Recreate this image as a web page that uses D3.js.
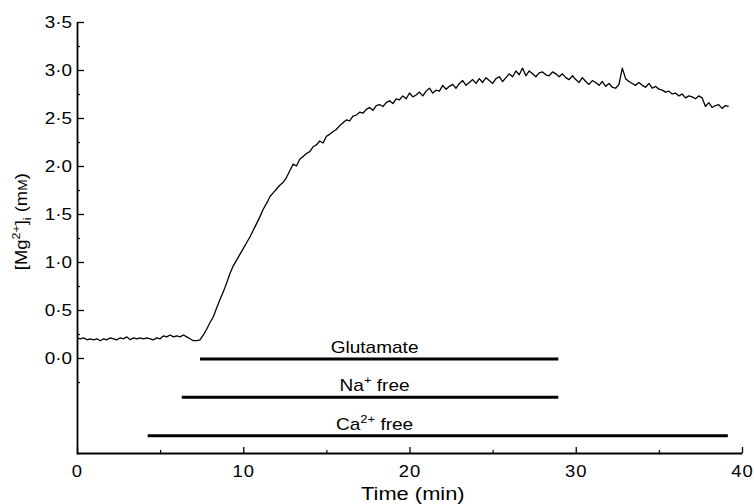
<!DOCTYPE html>
<html>
<head>
<meta charset="utf-8">
<script src="https://cdn.jsdelivr.net/npm/d3@7"></script>
<style>
  html, body { margin: 0; padding: 0; background: #fff; }
  svg { display: block; }
  text { font-family: "Liberation Sans", Arial, Helvetica, sans-serif; fill: #000; }
</style>
</head>
<body>
<svg id="chart" width="754" height="504"></svg>
<script>
// ---- data ----
const sampleInterval = 0.2; // min between samples of the trace
const mgValues = [
  0.21,0.20,0.21,0.19,0.20,0.19,0.20,0.18,0.20,0.19,
  0.21,0.20,0.19,0.21,0.20,0.22,0.19,0.21,0.20,0.21,
  0.20,0.21,0.20,0.19,0.21,0.20,0.23,0.22,0.24,0.22,
  0.23,0.22,0.24,0.22,0.20,0.18,0.18,0.19,0.24,0.30,
  0.37,0.43,0.52,0.61,0.69,0.78,0.88,0.96,1.02,1.08,
  1.14,1.20,1.26,1.33,1.40,1.47,1.55,1.61,1.68,1.72,
  1.76,1.80,1.83,1.88,1.95,2.02,2.00,2.07,2.10,2.13,
  2.15,2.20,2.22,2.26,2.24,2.31,2.33,2.36,2.38,2.42,
  2.45,2.48,2.47,2.52,2.53,2.56,2.55,2.59,2.61,2.58,
  2.63,2.64,2.62,2.66,2.68,2.65,2.70,2.69,2.73,2.70,
  2.76,2.72,2.74,2.77,2.73,2.78,2.81,2.76,2.79,2.78,
  2.84,2.80,2.83,2.85,2.81,2.86,2.89,2.84,2.87,2.90,
  2.86,2.91,2.87,2.92,2.89,2.86,2.91,2.93,2.88,2.92,
  2.96,2.93,2.99,2.95,3.02,2.94,2.99,2.96,2.93,2.97,
  2.98,2.95,2.94,2.98,2.96,2.93,2.96,2.92,2.90,2.94,
  2.90,2.87,2.92,2.88,2.85,2.89,2.87,2.84,2.88,2.83,
  2.86,2.82,2.81,2.85,3.02,2.91,2.88,2.86,2.84,2.87,
  2.84,2.82,2.86,2.81,2.83,2.80,2.79,2.77,2.78,2.75,
  2.76,2.73,2.75,2.71,2.73,2.72,2.70,2.73,2.71,2.62,
  2.66,2.61,2.63,2.64,2.60,2.63,2.62
];

const xMajorTicks = [0, 10, 20, 30, 40];
const xTickLabels = ["0", "10", "20", "30", "40"];
const xMinorTicks = [5, 15, 25, 35];
const yMajorTicks = [0, 0.5, 1, 1.5, 2, 2.5, 3, 3.5];
const yTickLabels = ["0·0", "0·5", "1·0", "1·5", "2·0", "2·5", "3·0", "3·5"];
const yMinorTicks = [-0.25, 0.25, 0.75, 1.25, 1.75, 2.25, 2.75, 3.25];

const barLabels = ["Glutamate", "Na^{+} free", "Ca^{2+} free"];
const barStart = [7.4, 6.3, 4.25];
const barEnd   = [28.95, 28.95, 39.15];
const barLevel = [-0.01, -0.41, -0.81];
const barLabelTime = 17.9;

const xTitle = "Time (min)";

// ---- layout ----
const svg = d3.select("#chart");
const x = d3.scaleLinear().domain([0, 40]).range([77, 742]);
const y = d3.scaleLinear().domain([-1, 3.5]).range([454, 22]);
const axisY0 = 453;

// helper: text with ^{sup} and _{sub} markup
function richText(sel, str, size) {
  const re = /(\^\{[^}]*\}|_\{[^}]*\})/g;
  const parts = str.split(re).filter(s => s.length);
  let shift = 0;
  parts.forEach(p => {
    if (p.startsWith("^{")) {
      sel.append("tspan").attr("font-size", size * 0.68).attr("dy", -size * 0.42 - shift).text(p.slice(2, -1));
      shift = -size * 0.42;
    } else if (p.startsWith("_{")) {
      sel.append("tspan").attr("font-size", size * 0.68).attr("dy", size * 0.22 - shift).text(p.slice(2, -1));
      shift = size * 0.22;
    } else {
      sel.append("tspan").attr("font-size", size).attr("dy", -shift).text(p);
      shift = 0;
    }
  });
}

// ---- axes ----
const gx = svg.append("g").attr("transform", `translate(0,${axisY0})`)
  .call(d3.axisBottom(x).tickValues(xMajorTicks).tickSizeInner(-6).tickSizeOuter(0)
    .tickFormat((d, i) => xTickLabels[i]));
gx.select(".domain").attr("stroke-width", 1.8);
gx.selectAll(".tick line").attr("stroke-width", 1.3);
gx.selectAll(".tick text").attr("y", 24.5).attr("dy", 0)
  .attr("font-size", 16).attr("font-family", null).attr("letter-spacing", 1)
  .attr("transform", "scale(1.15,1)");

const gxm = svg.append("g").attr("transform", `translate(0,${axisY0})`)
  .call(d3.axisBottom(x).tickValues(xMinorTicks).tickSizeInner(-3).tickSizeOuter(0).tickFormat(""));
gxm.select(".domain").remove();
gxm.selectAll(".tick line").attr("stroke-width", 1.2);

const gy = svg.append("g").attr("transform", `translate(${x(0)},0)`)
  .call(d3.axisLeft(y).tickValues(yMajorTicks).tickSizeInner(-7).tickSizeOuter(0)
    .tickFormat((d, i) => yTickLabels[i]));
gy.select(".domain").attr("stroke-width", 1.8);
gy.selectAll(".tick line").attr("stroke-width", 1.3);
gy.selectAll(".tick text").attr("x", -5 / 1.18).attr("dy", "0.36em")
  .attr("font-size", 16).attr("font-family", null)
  .attr("transform", "scale(1.18,1)");

const gym = svg.append("g").attr("transform", `translate(${x(0)},0)`)
  .call(d3.axisLeft(y).tickValues(yMinorTicks).tickSizeInner(-3).tickSizeOuter(0).tickFormat(""));
gym.select(".domain").remove();
gym.selectAll(".tick line").attr("stroke-width", 1.2);

// ---- trace ----
const line = d3.line()
  .x((d, i) => x(i * sampleInterval))
  .y(d => y(d));
svg.append("path")
  .datum(mgValues)
  .attr("d", line)
  .attr("fill", "none")
  .attr("stroke", "#000")
  .attr("stroke-width", 1.3)
  .attr("stroke-linejoin", "round");

// ---- treatment bars ----
barLabels.forEach((lab, i) => {
  svg.append("line")
    .attr("x1", x(barStart[i])).attr("x2", x(barEnd[i]))
    .attr("y1", y(barLevel[i])).attr("y2", y(barLevel[i]))
    .attr("stroke", "#000").attr("stroke-width", 3);
  const g = svg.append("g")
    .attr("transform", `translate(${x(barLabelTime)},${y(barLevel[i]) - 6}) scale(1.12,1)`);
  const t = g.append("text").attr("text-anchor", "middle");
  richText(t, lab, 17);
});

// ---- axis titles ----
const gxt = svg.append("g").attr("transform", `translate(${x(20.2)},500) scale(1.25,1)`);
gxt.append("text").attr("text-anchor", "middle").attr("font-size", 17.5).text(xTitle);

const gyt = svg.append("g").attr("transform", `translate(27,${y(1.42)}) rotate(-90) scale(1.15,1)`);
const yt = gyt.append("text").attr("text-anchor", "middle");
richText(yt, "[Mg^{2+}]_{i} (m", 16);
yt.append("tspan").attr("font-size", 12).text("M");
yt.append("tspan").attr("font-size", 16).text(")");
</script>
</body>
</html>
